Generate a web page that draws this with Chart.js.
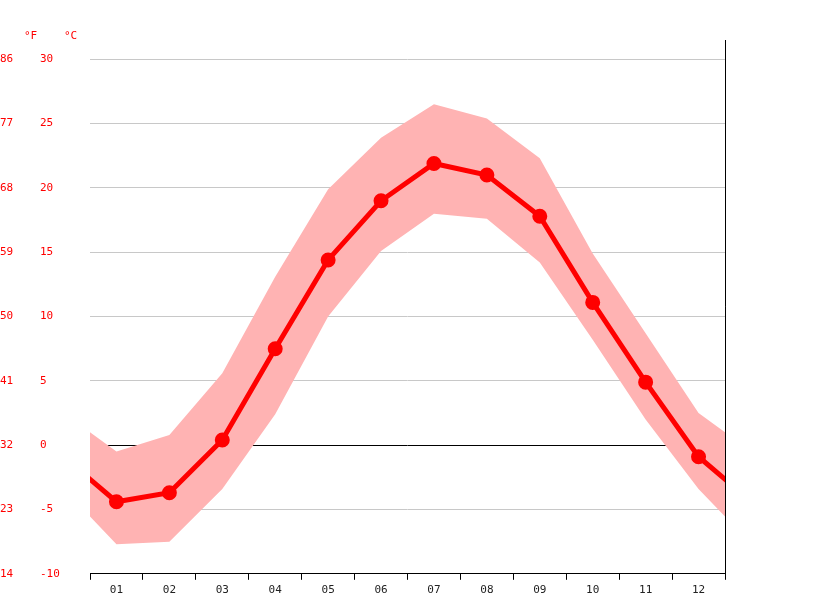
<!DOCTYPE html>
<html>
<head>
<meta charset="utf-8">
<script src="https://cdn.jsdelivr.net/npm/chart.js@4"></script>
<style>body{margin:0;background:#fff}</style>
</head>
<body>
<canvas id="graph" width="815" height="611"></canvas>
<script>
var months = ["01","02","03","04","05","06","07","08","09","10","11","12"];
var meanTemp = [-4.4, -3.7, 0.4, 7.5, 14.4, 19.0, 21.9, 21.0, 17.8, 11.1, 4.9, -0.9];
var maxTemp = [-0.5, 0.8, 5.6, 13.1, 19.9, 23.9, 26.5, 25.4, 22.3, 14.9, 8.7, 2.5];
var minTemp = [-7.7, -7.5, -3.4, 2.4, 10.0, 15.1, 18.0, 17.6, 14.2, 8.2, 2.0, -3.4];

// wrap the year around so the lines reach both edges
function wrap(arr) {
  var pts = [{x: 0, y: arr[11]}];
  arr.forEach(function (v, i) { pts.push({x: i + 1, y: v}); });
  pts.push({x: 13, y: arr[0]});
  return pts;
}
var pointR = [0,5,5,5,5,5,5,5,5,5,5,5,5,0];
var font = {family: "DejaVu Sans Mono", size: 11};

var extras = {
  id: "extras",
  afterDraw: function (c) {
    var ctx = c.ctx, a = c.chartArea;
    ctx.save();
    ctx.strokeStyle = "#000";
    ctx.lineWidth = 1;
    ctx.beginPath();
    ctx.moveTo(a.right + 0.5, a.top);
    ctx.lineTo(a.right + 0.5, a.bottom);
    ctx.stroke();
    ctx.fillStyle = "red";
    ctx.font = "11px 'DejaVu Sans Mono'";
    ctx.fillText("°F", 24, 39);
    ctx.fillText("°C", 64, 39);
    ctx.restore();
  }
};

new Chart("graph", {
  type: "line",
  data: {
    labels: months,
    datasets: [
      {data: wrap(meanTemp), xAxisID: "xl", yAxisID: "y", borderColor: "red", backgroundColor: "red",
       borderWidth: 5, pointRadius: pointR, pointHoverRadius: pointR, tension: 0, fill: false},
      {data: wrap(maxTemp), xAxisID: "xl", yAxisID: "y", borderWidth: 0, pointRadius: 0,
       backgroundColor: "#ffb3b3", fill: "+1", tension: 0},
      {data: wrap(minTemp), xAxisID: "xl", yAxisID: "y", borderWidth: 0, pointRadius: 0,
       backgroundColor: "#ffb3b3", fill: false, tension: 0}
    ]
  },
  options: {
    responsive: false,
    animation: false,
    layout: {padding: {top: 40, right: 90, left: 0, bottom: 10}},
    plugins: {legend: {display: false}, tooltip: {enabled: false}},
    scales: {
      xl: {type: "linear", min: 0.5, max: 12.5, display: false},
      x: {
        type: "category", offset: true, position: "bottom",
        grid: {offset: true, drawOnChartArea: false, tickLength: 6, color: "#000"},
        border: {color: "#000"},
        ticks: {color: "#222", font: font, padding: 4}
      },
      y: {
        position: "left", min: -10, max: 31.5,
        afterBuildTicks: function (s) { s.ticks = s.ticks.filter(function (t) { return t.value % 5 === 0; }); },
        afterFit: function (s) { s.width = 50; },
        ticks: {stepSize: 5, color: "red", font: font, crossAlign: "far", padding: 0},
        grid: {color: function (c) { return c.tick && c.tick.value === 0 ? "#000" : "#c8c8c8"; }, drawTicks: false},
        border: {display: false}
      },
      yf: {
        position: "left", min: -10, max: 31.5,
        afterBuildTicks: function (s) { s.ticks = s.ticks.filter(function (t) { return t.value % 5 === 0; }); },
        afterFit: function (s) { s.width = 40; },
        ticks: {stepSize: 5, color: "red", font: font, crossAlign: "far", padding: 0,
          callback: function (v) { return Math.round(v * 9 / 5 + 32); }},
        grid: {display: false},
        border: {display: false}
      }
    }
  },
  plugins: [extras]
});
</script>
</body>
</html>
